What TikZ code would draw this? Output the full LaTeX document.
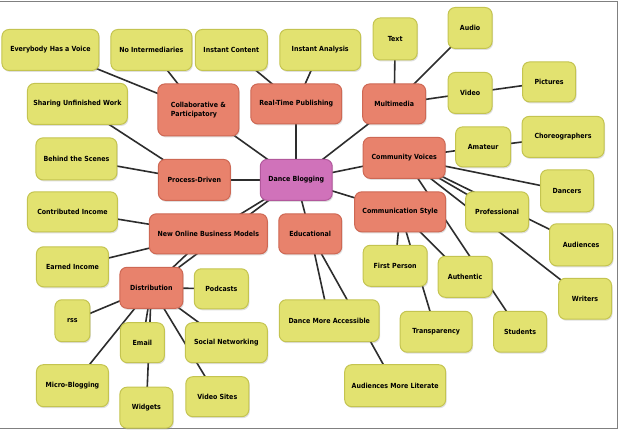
\documentclass[tikz,border=0pt]{standalone}
\usepackage{fontspec}
\setmainfont{DejaVu Sans Condensed}
\usepackage{tikz}
\usetikzlibrary{shapes,positioning,calc,shadows,backgrounds}
\usepackage{xcolor}
\definecolor{leafyellow}{RGB}{226,226,112}
\definecolor{leafedge}{RGB}{196,196,80}
\definecolor{topicorange}{RGB}{232,130,108}
\definecolor{topicedge}{RGB}{206,104,84}
\definecolor{hubpurple}{RGB}{208,114,186}
\definecolor{hubedge}{RGB}{178,88,156}
\definecolor{linkgray}{RGB}{45,45,45}

\begin{document}
\begin{tikzpicture}[x=1pt,y=-1pt,
    box/.style={rounded corners=7pt,line width=1pt,align=center,inner sep=2pt,
                font=\fontsize{7}{8.5}\selectfont\bfseries,
                drop shadow={opacity=0.25,shadow xshift=1pt,shadow yshift=-1.5pt}},
    leaf/.style={box,draw=leafedge,fill=leafyellow},
    topic/.style={box,draw=topicedge,fill=topicorange},
    hub/.style={box,draw=hubedge,fill=hubpurple},
    sz/.style 2 args={minimum width=#1pt,minimum height=#2pt},
    link/.style={draw=linkgray,line width=1.6pt}]
    % centre and main topics
    \node[hub,sz={72}{41}] (blog) at (296,180) {Dance Blogging};
    \node[topic,sz={81}{52},align=left] (collab) at (198,110) {Collaborative \&\\Participatory};
    \node[topic,sz={91}{40}] (rtp) at (296,104) {Real-Time Publishing};
    \node[topic,sz={63}{40}] (multi) at (394,104) {Multimedia};
    \node[topic,sz={72}{41}] (process) at (194,180) {Process-Driven};
    \node[topic,sz={82}{41}] (voices) at (404,158) {Community Voices};
    \node[topic,sz={91}{40}] (style) at (400,212) {Communication Style};
    \node[topic,sz={118}{40}] (nobm) at (208,234) {New Online Business Models};
    \node[topic,sz={63}{40}] (edu) at (310,234) {Educational};
    \node[topic,sz={63}{41}] (distrib) at (151,288) {Distribution};
    % leaves
    \node[leaf,sz={97}{41}] (voice) at (50,50) {Everybody Has a Voice};
    \node[leaf,sz={81}{41}] (nointer) at (151,50) {No Intermediaries};
    \node[leaf,sz={72}{41}] (icontent) at (231,50) {Instant Content};
    \node[leaf,sz={81}{41}] (ianalysis) at (320,50) {Instant Analysis};
    \node[leaf,sz={100}{41}] (sharing) at (77,104) {Sharing Unfinished Work};
    \node[leaf,sz={81}{42}] (behind) at (76,159) {Behind the Scenes};
    \node[leaf,sz={90}{40}] (contrib) at (72,212) {Contributed Income};
    \node[leaf,sz={72}{40}] (earned) at (72,267) {Earned Income};
    \node[leaf,sz={44}{42}] (text) at (395,39) {Text};
    \node[leaf,sz={44}{41}] (audio) at (470,28) {Audio};
    \node[leaf,sz={44}{41}] (video) at (470,93) {Video};
    \node[leaf,sz={53}{40}] (pictures) at (549,82) {Pictures};
    \node[leaf,sz={82}{41}] (choreo) at (563,137) {Choreographers};
    \node[leaf,sz={55}{40}] (amateur) at (483,147) {Amateur};
    \node[leaf,sz={53}{42}] (dancers) at (567,191) {Dancers};
    \node[leaf,sz={63}{40}] (prof) at (497,212) {Professional};
    \node[leaf,sz={63}{42}] (audiences) at (581,245) {Audiences};
    \node[leaf,sz={53}{41}] (writers) at (585,299) {Writers};
    \node[leaf,sz={64}{41}] (first) at (395,266) {First Person};
    \node[leaf,sz={54}{41}] (authentic) at (465,277) {Authentic};
    \node[leaf,sz={72}{41}] (transp) at (436,332) {Transparency};
    \node[leaf,sz={53}{41}] (students) at (520,332) {Students};
    \node[leaf,sz={100}{42}] (access) at (329,321) {Dance More Accessible};
    \node[leaf,sz={101}{42}] (literate) at (395,386) {Audiences More Literate};
    \node[leaf,sz={54}{40}] (podcasts) at (221,289) {Podcasts};
    \node[leaf,sz={35}{42}] (rss) at (72,321) {rss};
    \node[leaf,sz={44}{40}] (email) at (142,343) {Email};
    \node[leaf,sz={82}{40}] (social) at (226,343) {Social Networking};
    \node[leaf,sz={72}{42}] (micro) at (72,386) {Micro-Blogging};
    \node[leaf,sz={53}{41}] (widgets) at (146,408) {Widgets};
    \node[leaf,sz={63}{40}] (vsites) at (217,397) {Video Sites};
    % page and connectors, behind the boxes
    \begin{pgfonlayer}{background}
        \fill[white] (0,0) rectangle (619,434);
        \draw[gray,line width=1pt] (0,2) -- (617,2) -- (617,429) -- (0,429);
        \foreach \a/\b in {blog/collab,blog/rtp,blog/multi,blog/process,blog/voices,
                           blog/style,blog/nobm,blog/distrib,blog/edu,
                           collab/voice,collab/nointer,rtp/icontent,rtp/ianalysis,
                           multi/text,multi/audio,multi/video,video/pictures,
                           process/sharing,process/behind,
                           voices/amateur,amateur/choreo,voices/dancers,voices/prof,
                           voices/audiences,voices/writers,voices/students,
                           style/first,style/transp,style/authentic,
                           edu/access,edu/literate,
                           nobm/contrib,nobm/earned,nobm/distrib,
                           distrib/podcasts,distrib/rss,distrib/email,distrib/widgets,
                           distrib/micro,distrib/social,distrib/vsites}
            \draw[link] (\a.center) -- (\b.center);
    \end{pgfonlayer}
\end{tikzpicture}
\end{document}
